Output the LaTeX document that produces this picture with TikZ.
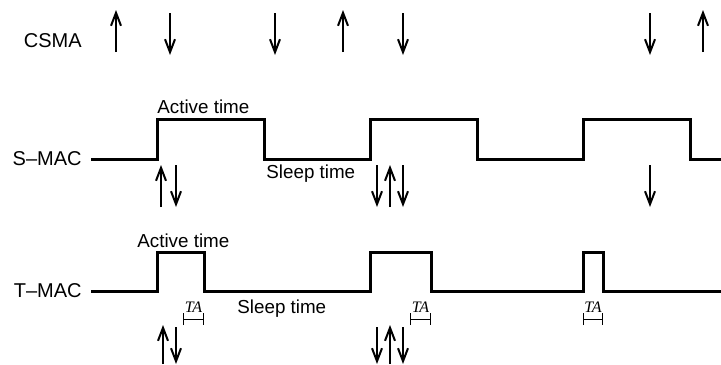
\documentclass[tikz,border=0pt]{standalone}
\usepackage{fontspec}
\setmainfont{Liberation Sans}
\newfontfamily\tafont{Liberation Serif}
\usetikzlibrary{arrows.meta,positioning}
\tikzstyle{wave}=[line width=1.5pt,line join=miter]
\tikzstyle{sig}=[line width=1pt,-{Straight Barb[length=6.5pt,width=5pt]}]
\tikzstyle{tabar}=[line width=0.5pt,{Bar[width=6pt]}-{Bar[width=6pt]}]
\tikzstyle{rowlabel}=[inner sep=0pt,font=\fontsize{10}{12}\selectfont]
\tikzstyle{note}=[inner sep=0pt,font=\fontsize{9.4}{11}\selectfont]
\tikzstyle{ta}=[inner sep=0pt,font=\tafont\itshape\fontsize{8}{9}\selectfont]

\begin{document}
\begin{tikzpicture}[x=0.5pt,y=-0.5pt]
            \useasboundingbox (0,0) rectangle (721,364);

            % CSMA
            \node[rowlabel,anchor=east] (csma) at (82,41) {CSMA};
            \draw[sig] (116,52) -- (116,10);
            \draw[sig] (170,13) -- (170,55);
            \draw[sig] (275,13) -- (275,55);
            \draw[sig] (343,52) -- (343,10);
            \draw[sig] (403,13) -- (403,55);
            \draw[sig] (650,13) -- (650,55);
            \draw[sig] (703,52) -- (703,10);

            % S-MAC
            \coordinate (s0) at (91,159);
            \node[rowlabel,left=4.5pt of s0] (smac) {S--MAC};
            \draw[wave] (s0) -- (157,159) -- (157,119) -- (264,119) -- (264,159)
                -- (370,159) -- (370,119) -- (477,119) -- (477,159)
                -- (583,159) -- (583,119) -- (690,119) -- (690,159) -- (721,159);
            \node[note,anchor=base west] (sact) at (157,113) {Active time};
            \node[note,anchor=base west] (ssleep) at (266,178) {Sleep time};
            \draw[sig] (161,207) -- (161,165);
            \draw[sig] (176,165) -- (176,207);
            \draw[sig] (377,165) -- (377,207);
            \draw[sig] (390,207) -- (390,165);
            \draw[sig] (403,165) -- (403,207);
            \draw[sig] (650,165) -- (650,207);

            % T-MAC
            \coordinate (t0) at (91,291);
            \node[rowlabel,left=4.5pt of t0] (tmac) {T--MAC};
            \draw[wave] (t0) -- (157,291) -- (157,252) -- (204,252) -- (204,291)
                -- (370,291) -- (370,252) -- (431,252) -- (431,291)
                -- (583,291) -- (583,252) -- (603,252) -- (603,291) -- (721,291);
            \node[note,anchor=base west] (tact) at (137,247) {Active time};
            \node[note,anchor=base west] (tsleep) at (237,313) {Sleep time};
            \draw[tabar] (183,319) -- (204,319);
            \draw[tabar] (410,319) -- (431,319);
            \draw[tabar] (583,319) -- (603,319);
            \node[ta,anchor=base] (ta1) at (193.5,312) {TA};
            \node[ta,anchor=base] (ta2) at (420.5,312) {TA};
            \node[ta,anchor=base] (ta3) at (593,312) {TA};
            \draw[sig] (163,364) -- (163,325);
            \draw[sig] (176,327) -- (176,364);
            \draw[sig] (377,327) -- (377,364);
            \draw[sig] (390,364) -- (390,325);
            \draw[sig] (403,327) -- (403,364);

        \end{tikzpicture}
\end{document}
